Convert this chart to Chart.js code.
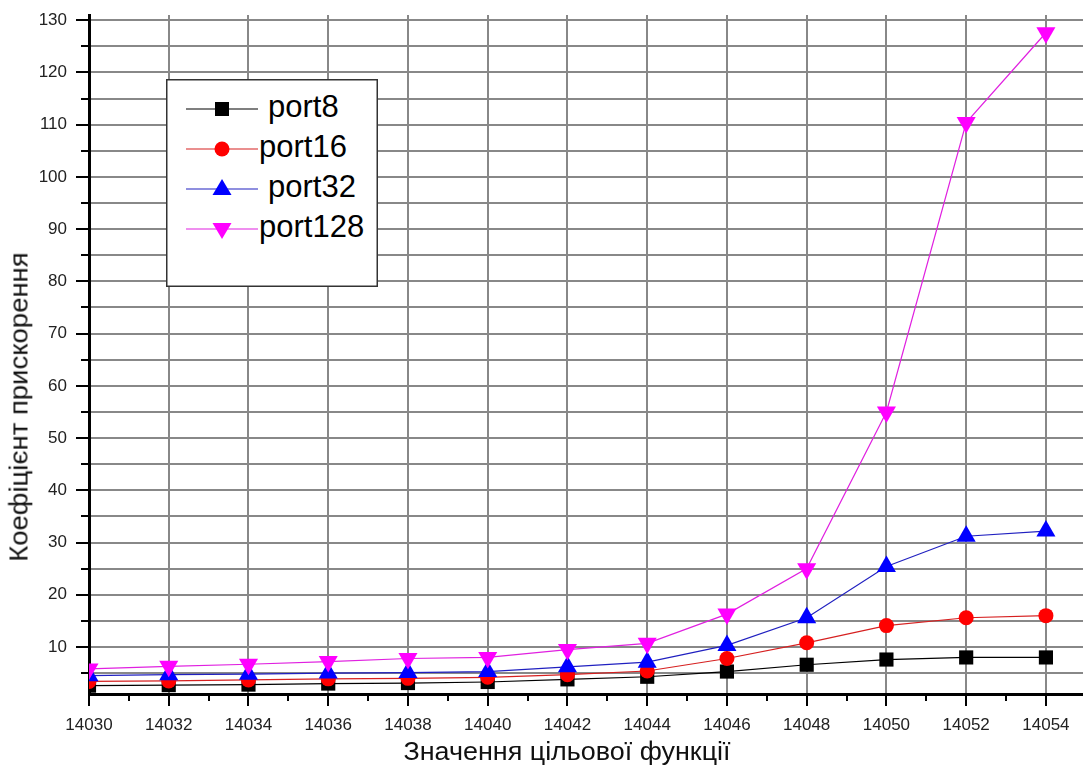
<!DOCTYPE html>
<html>
<head>
<meta charset="utf-8">
<script src="https://cdn.jsdelivr.net/npm/chart.js@4.4.1/dist/chart.umd.min.js"></script>
<style>
  body { margin: 0; background: #fff; }
  #wrap { position: relative; width: 1083px; height: 767px; font-family: 'Liberation Sans', Arial, sans-serif; }
  #wrap canvas { position: absolute; left: 0; top: 0; }
  .axis-title { position: absolute; white-space: nowrap; color: #111; line-height: 1; }
  #xTitle { left: 567px; top: 751px; font-size: 26px; transform: translate(-50%, -50%) scaleX(1.035); }
  #yTitle { left: 19px; top: 407px; font-size: 25px; transform: translate(-50%, -50%) rotate(-90deg) scaleX(1.1); }
  #legend { position: absolute; left: 166px; top: 79px; }
</style>
</head>
<body>
<div id="wrap">
  <canvas id="chart" width="1083" height="767"></canvas>
  <div class="axis-title" id="xTitle">Значення цільової функції</div>
  <div class="axis-title" id="yTitle">Коефіцієнт прискорення</div>
  <svg id="legend" width="212" height="209"></svg>
</div>
<script>
const xValues = [14030, 14032, 14034, 14036, 14038, 14040, 14042, 14044, 14046, 14048, 14050, 14052, 14054]
const port8 = [2.6, 2.7, 2.8, 3.0, 3.1, 3.3, 3.8, 4.3, 5.3, 6.6, 7.6, 8.0, 8.0]
const port16 = [3.4, 3.5, 3.7, 3.9, 4.0, 4.2, 4.7, 5.4, 7.8, 10.8, 14.1, 15.6, 16.0]
const port32 = [4.5, 4.7, 4.8, 5.0, 5.1, 5.3, 6.2, 7.1, 10.3, 15.6, 25.4, 31.2, 32.2]
const port128 = [5.8, 6.3, 6.7, 7.2, 7.8, 8.0, 9.5, 10.7, 16.3, 25.0, 55.0, 110.4, 127.6]
const seriesNames = ['port8', 'port16', 'port32', 'port128']

const xTickLabels = [14030, 14032, 14034, 14036, 14038, 14040, 14042, 14044, 14046, 14048, 14050, 14052, 14054]
const xMinorTicks = [14031, 14033, 14035, 14037, 14039, 14041, 14043, 14045, 14047, 14049, 14051, 14053]
const yTickLabels = [10, 20, 30, 40, 50, 60, 70, 80, 90, 100, 110, 120, 130]
const yMinorTicks = [5, 15, 25, 35, 45, 55, 65, 75, 85, 95, 105, 115, 125]

const colors = ['#000000', '#ff0000', '#0000ff', '#ff00ff']
const lineColors = ['#000000', '#d62020', '#2020c0', '#e020e0']
const gridGray = '#888888'
const FONT = "'Liberation Sans', Arial, sans-serif"

const pairs = ys => xValues.map((x, i) => ({ x, y: ys[i] }))

const makeSet = (i, ys, style, radius, rotation, order) => ({
  label: seriesNames[i],
  data: pairs(ys),
  borderColor: lineColors[i],
  backgroundColor: colors[i],
  borderWidth: 1.2,
  pointStyle: style,
  pointRadius: radius,
  pointRotation: rotation,
  pointBorderWidth: 0,
  pointBackgroundColor: colors[i],
  tension: 0,
  clip: 0,
  order
})

const minorTicksPlugin = {
  id: 'minorTicks',
  afterDraw(chart) {
    const { ctx, chartArea, scales } = chart
    ctx.save()
    ctx.strokeStyle = '#000'
    ctx.lineWidth = 2
    ctx.beginPath()
    xMinorTicks.forEach(v => {
      const x = Math.round(scales.x.getPixelForValue(v))
      ctx.moveTo(x, chartArea.bottom)
      ctx.lineTo(x, chartArea.bottom + 7)
    })
    yMinorTicks.forEach(v => {
      const y = Math.round(scales.y.getPixelForValue(v))
      ctx.moveTo(chartArea.left, y)
      ctx.lineTo(chartArea.left - 8, y)
    })
    ctx.stroke()
    ctx.restore()
  }
}

new Chart(document.getElementById('chart'), {
  type: 'line',
  data: {
    datasets: [
      makeSet(0, port8, 'rect', 10, 0, 4),
      makeSet(1, port16, 'circle', 7.5, 0, 3),
      makeSet(2, port32, 'triangle', 11, 0, 2),
      makeSet(3, port128, 'triangle', 11, 180, 1)
    ]
  },
  options: {
    responsive: false,
    animation: false,
    layout: { autoPadding: false, padding: { top: 15, right: 0, bottom: 0, left: 0 } },
    plugins: { legend: { display: false }, tooltip: { enabled: false } },
    scales: {
      x: {
        type: 'linear',
        min: 14030,
        max: 14054.93,
        afterBuildTicks: scale => {
          const ticks = []
          xTickLabels.forEach(v => ticks.push({ value: v }))
          xMinorTicks.forEach(v => ticks.push({ value: v }))
          scale.ticks = ticks.sort((a, b) => a.value - b.value)
        },
        afterFit: scale => {
          scale.height = 73
          scale.paddingLeft = 0
          scale.paddingRight = 0
        },
        grid: {
          color: c => (xTickLabels.includes(c.tick.value) ? gridGray : 'rgba(0,0,0,0)'),
          lineWidth: 2,
          tickColor: c => (xTickLabels.includes(c.tick.value) ? '#000' : 'rgba(0,0,0,0)'),
          tickLength: 12,
          tickWidth: 2
        },
        border: { color: '#000', width: 3 },
        ticks: {
          autoSkip: false,
          maxRotation: 0,
          padding: 9,
          color: '#222',
          font: { family: FONT, size: 17 },
          callback: v => (xTickLabels.includes(v) ? String(v) : '')
        }
      },
      y: {
        type: 'linear',
        min: 1,
        max: 131,
        afterBuildTicks: scale => {
          const ticks = []
          yTickLabels.forEach(v => ticks.push({ value: v }))
          yMinorTicks.forEach(v => ticks.push({ value: v }))
          scale.ticks = ticks.sort((a, b) => a.value - b.value)
        },
        afterFit: scale => {
          scale.width = 89
          scale.paddingTop = 0
          scale.paddingBottom = 0
        },
        grid: {
          color: gridGray,
          lineWidth: 2,
          tickColor: c => (yTickLabels.includes(c.tick.value) ? '#000' : 'rgba(0,0,0,0)'),
          tickLength: 13,
          tickWidth: 2
        },
        border: { color: '#000', width: 3 },
        ticks: {
          autoSkip: false,
          padding: 9,
          color: '#222',
          font: { family: FONT, size: 17 },
          callback: v => (yTickLabels.includes(v) ? String(v) : '')
        }
      }
    }
  },
  plugins: [minorTicksPlugin]
})

// legend box, drawn as svg over the plot
const svgNS = 'http://www.w3.org/2000/svg'
const legend = document.getElementById('legend')
const el = (name, attrs) => {
  const node = document.createElementNS(svgNS, name)
  Object.entries(attrs).forEach(([k, v]) => node.setAttribute(k, v))
  legend.appendChild(node)
  return node
}
el('rect', { x: 0.75, y: 0.75, width: 210.5, height: 206.5, fill: '#fff', stroke: '#333', 'stroke-width': 1.5 })
const indent = [9, 0, 9, 0]
seriesNames.forEach((name, i) => {
  const cy = 30 + 40 * i
  const cx = 56
  const color = colors[i]
  el('line', { x1: 20, y1: cy, x2: 92, y2: cy, stroke: lineColors[i], 'stroke-width': 1.2 })
  if (i === 0) el('rect', { x: cx - 7, y: cy - 7, width: 14, height: 14, fill: color })
  if (i === 1) el('circle', { cx, cy, r: 7.5, fill: color })
  if (i === 2) el('polygon', { points: `${cx},${cy - 10} ${cx + 9.5},${cy + 6} ${cx - 9.5},${cy + 6}`, fill: color })
  if (i === 3) el('polygon', { points: `${cx},${cy + 10} ${cx + 9.5},${cy - 6} ${cx - 9.5},${cy - 6}`, fill: color })
  const t = el('text', { x: 93 + indent[i], y: cy + 8, 'font-size': 31, 'font-family': FONT, fill: '#000' })
  t.textContent = name
})
</script>
</body>
</html>
